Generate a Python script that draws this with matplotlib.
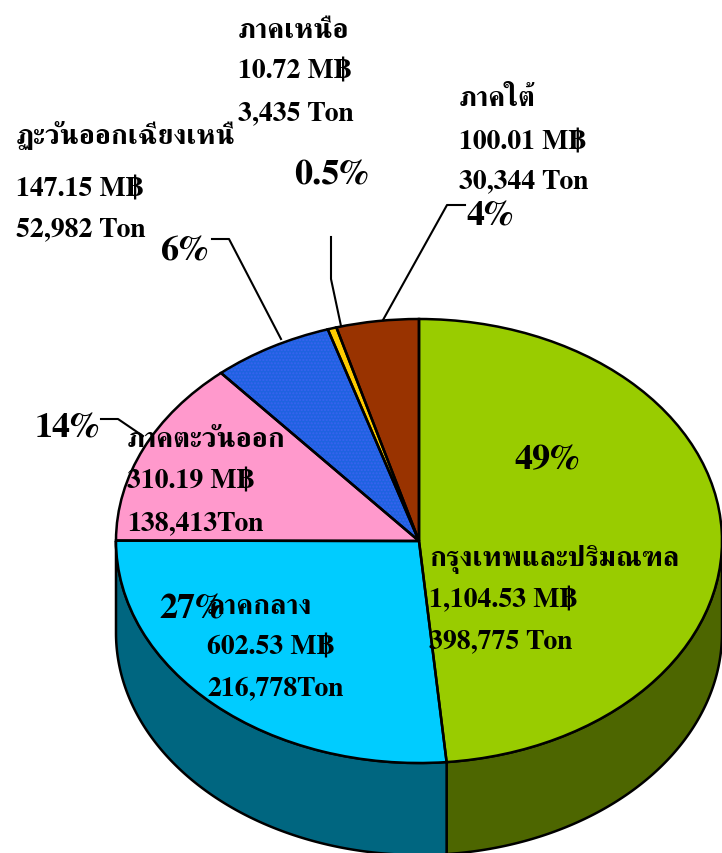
import numpy as np
import matplotlib
matplotlib.use('Agg')
import matplotlib.pyplot as plt
from matplotlib.lines import Line2D
from matplotlib.patches import Polygon

W, H = 722, 854
# data
regions = ['กรุงเทพและปริมณฑล', 'ภาคกลาง', 'ภาคตะวันออก', 'ฏะวันออกเฉียงเหนื', 'ภาคเหนือ', 'ภาคใต้']
million_baht = [1104.53, 602.53, 310.19, 147.15, 10.72, 100.01]
baht_labels = ['1,104.53 M฿', '602.53 M฿', '310.19 M฿', '147.15 M฿', '10.72 M฿', '100.01 M฿']
ton_labels = ['398,775 Ton', '216,778Ton', '138,413Ton', '52,982 Ton', '3,435 Ton', '30,344 Ton']
pct_labels = ['49%', '27%', '14%', '6%', '0.5%', '4%']
# styles
top_colors = ['#99CC00', '#00CCFF', '#FF99CC', '#1F62E0', '#FFCC00', '#993300']
side_colors = ['#4D6600', '#006680', '#804D66', '#103170', '#806600', '#4D1A00']
FONT = ['FreeSerif', 'Liberation Serif', 'DejaVu Serif']
cx, cy, rx, ry, depth = 419, 542, 303, 222, 92
label_pos = [(429, 560), (207, 607), (127, 441), (16, 135), (238, 32), (459, 100)]
line_gap = [[40, 82], [41, 83], [41, 83], [55, 95], [40, 82], [43, 82]]
pct_pos = [(547, 461), (192, 610), (67, 429), (184, 252), (331, 176), (490, 217)]
leaders = [None, None,
           [(101, 420), (118, 420), (143, 437)],
           [(212, 240), (229, 240), (281, 340)],
           [(331, 238), (331, 280), (341, 327)],
           [(465, 206), (447, 206), (383, 321)]]

fig = plt.figure(figsize=(W / 100, H / 100), dpi=100)
ax = fig.add_axes([0, 0, 1, 1])

# extruded side wall, built from the value shares
fractions = np.array(million_baht) / sum(million_baht)
ends = 90 - 360 * np.cumsum(fractions)
starts = np.r_[90, ends[:-1]]
for a0, a1, col in zip(starts, ends, side_colors):
    hi, lo = min(a0, 0), max(a1, -180)
    if hi <= lo:
        continue
    t = np.radians(np.linspace(lo, hi, 200))
    x, y = np.cos(t), np.sin(t)
    d = depth / ry
    verts = np.r_[np.c_[x, y], np.c_[x[::-1], y[::-1] - d]]
    ax.add_patch(Polygon(verts, closed=True, fc=col, ec='black', lw=1.8, zorder=1))

# top face
wedges, _ = ax.pie(million_baht, colors=top_colors, startangle=90, counterclock=False,
                   wedgeprops=dict(lw=0))
for w in wedges:
    w.set_zorder(2)
wedges[3].set_hatch('.....')
wedges[3].set_edgecolor('#3A63F0')
wedges[3].set_linewidth(0)
outline, _ = ax.pie(million_baht, startangle=90, counterclock=False,
                    wedgeprops=dict(fill=False, edgecolor='black', lw=1.8))
for w in outline:
    w.set_zorder(3)

ax.set_aspect('auto')
ax.set_xlim(-cx / rx, (W - cx) / rx)
ax.set_ylim(-(H - cy) / ry, cy / ry)
ax.axis('off')


def put(px, py, s, size, **kw):
    fig.text(px / W, 1 - py / H, s, fontsize=size, family=FONT, weight='bold',
             color='black', va='center', zorder=10, **kw)


for name, b, t, (px, py), (g1, g2) in zip(regions, baht_labels, ton_labels, label_pos, line_gap):
    put(px, py, name, 20.5)
    put(px, py + g1, b, 20)
    put(px, py + g2, t, 20)
for p, (px, py) in zip(pct_labels, pct_pos):
    put(px, py, p, 26, ha='center')
for pts in leaders:
    if pts:
        xs = [p[0] / W for p in pts]
        ys = [1 - p[1] / H for p in pts]
        fig.add_artist(Line2D(xs, ys, color='black', lw=1.5, zorder=5))

fig.savefig('out.png', dpi=100)
